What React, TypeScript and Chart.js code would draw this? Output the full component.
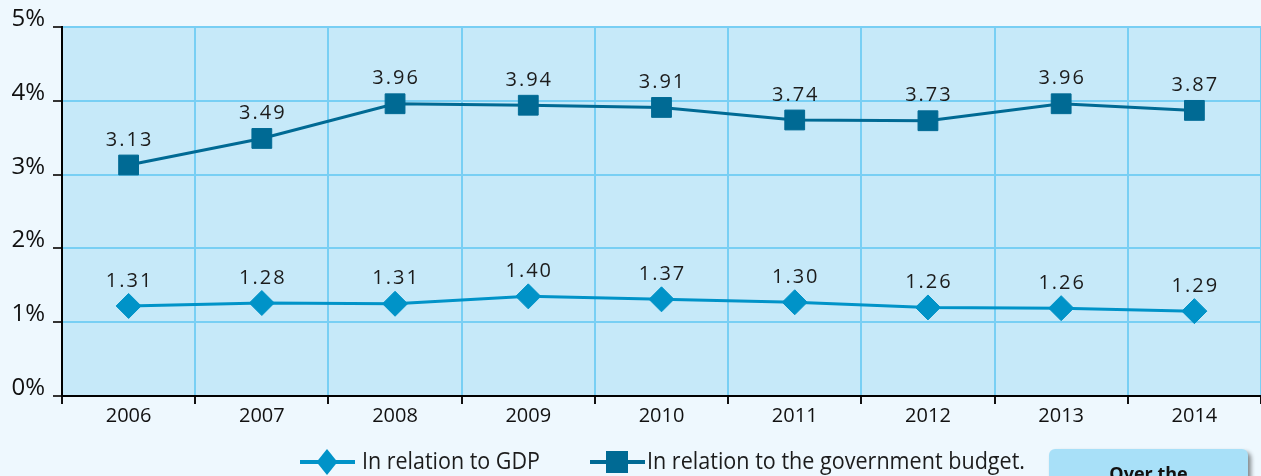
import React, { useEffect, useRef } from "react";
import { Chart, registerables } from "chart.js";

Chart.register(...registerables);

const years = ["2006", "2007", "2008", "2009", "2010", "2011", "2012", "2013", "2014"];
const gdpValues = [1.22, 1.26, 1.25, 1.35, 1.31, 1.27, 1.2, 1.19, 1.15];
const gdpLabels = ["1.31", "1.28", "1.31", "1.40", "1.37", "1.30", "1.26", "1.26", "1.29"];
const budgetValues = [3.13, 3.49, 3.96, 3.94, 3.91, 3.74, 3.73, 3.96, 3.87];
const budgetLabels = ["3.13", "3.49", "3.96", "3.94", "3.91", "3.74", "3.73", "3.96", "3.87"];
const yTicks = [0, 1, 2, 3, 4, 5];

const GDP_COLOR = "#0093c8";
const BUDGET_COLOR = "#006a94";
const GRID_COLOR = "#78cff4";
const PLOT_BG = "#c6e9f9";
const PAGE_BG = "#eef8fe";
const FONT = "'Open Sans', 'Noto Sans', sans-serif";

const allLabels = [gdpLabels, budgetLabels];

const plotBgPlugin = {
  id: "plotBg",
  beforeDraw(chart: any) {
    const { ctx, chartArea } = chart;
    ctx.save();
    ctx.fillStyle = PLOT_BG;
    ctx.fillRect(chartArea.left, chartArea.top, chartArea.right - chartArea.left + 2, chartArea.bottom - chartArea.top);
    ctx.restore();
  },
};

const valueLabelPlugin = {
  id: "valueLabels",
  afterDatasetsDraw(chart: any) {
    const { ctx } = chart;
    ctx.save();
    ctx.font = `20px ${FONT}`;
    (ctx as any).letterSpacing = "2px";
    ctx.fillStyle = "#1c1c1c";
    ctx.textAlign = "center";
    ctx.textBaseline = "middle";
    chart.data.datasets.forEach((ds: any, di: number) => {
      const meta = chart.getDatasetMeta(di);
      meta.data.forEach((pt: any, i: number) => {
        ctx.fillText(allLabels[di][i], pt.x + 1, pt.y - 25);
      });
    });
    ctx.restore();
  },
};

const legendPlugin = {
  id: "customLegend",
  afterDraw(chart: any) {
    const { ctx } = chart;
    const items = [
      { lineFrom: 300, lineTo: 355, mx: 327, textX: 362, textW: 178, shape: "diamond" },
      { lineFrom: 590, lineTo: 645, mx: 617, textX: 647, textW: 378, shape: "square" },
    ];
    const y = 462;
    items.forEach((it, i) => {
      const ds = chart.data.datasets[i];
      ctx.save();
      ctx.strokeStyle = ds.borderColor;
      ctx.lineWidth = 4;
      ctx.beginPath();
      ctx.moveTo(it.lineFrom, y);
      ctx.lineTo(it.lineTo, y);
      ctx.stroke();
      ctx.fillStyle = ds.borderColor;
      ctx.beginPath();
      if (it.shape === "diamond") {
        ctx.moveTo(it.mx, y - 13);
        ctx.lineTo(it.mx + 10.5, y);
        ctx.lineTo(it.mx, y + 13);
        ctx.lineTo(it.mx - 10.5, y);
        ctx.closePath();
      } else {
        ctx.rect(it.mx - 11, y - 11, 22, 22);
      }
      ctx.fill();
      ctx.font = `23px ${FONT}`;
      ctx.fillStyle = "#1c1c1c";
      ctx.textBaseline = "alphabetic";
      ctx.textAlign = "left";
      const w = ctx.measureText(ds.label).width;
      ctx.translate(it.textX, 469);
      ctx.scale(it.textW / w, 1);
      ctx.fillText(ds.label, 0, 0);
      ctx.restore();
    });
  },
};

export default function App() {
  const ref = useRef<HTMLCanvasElement | null>(null);

  useEffect(() => {
    if (!ref.current) return;
    const chart = new Chart(ref.current, {
      type: "line",
      data: {
        labels: years,
        datasets: [
          {
            label: "In relation to GDP",
            data: gdpValues,
            borderColor: GDP_COLOR,
            backgroundColor: GDP_COLOR,
            borderWidth: 3,
            pointStyle: "rectRot",
            pointRadius: 12.5,
            pointBorderWidth: 1,
            pointBackgroundColor: GDP_COLOR,
            pointBorderColor: GDP_COLOR,
            tension: 0,
          },
          {
            label: "In relation to the government budget.",
            data: budgetValues,
            borderColor: BUDGET_COLOR,
            backgroundColor: BUDGET_COLOR,
            borderWidth: 3,
            pointStyle: "rect",
            pointRadius: 14,
            pointBorderWidth: 1,
            pointBackgroundColor: BUDGET_COLOR,
            pointBorderColor: BUDGET_COLOR,
            tension: 0,
          },
        ],
      },
      options: {
        animation: false,
        responsive: false,
        devicePixelRatio: 1,
        layout: { autoPadding: false, padding: { top: 27, right: 0, left: 0, bottom: 50 } },
        plugins: {
          legend: { display: false },
          tooltip: { enabled: false },
        },
        scales: {
          x: {
            type: "category",
            offset: true,
            grid: {
              offset: true,
              color: GRID_COLOR,
              lineWidth: 2,
              tickColor: "#111",
              tickLength: 8,
            },
            border: { color: "#000", width: 2 },
            ticks: {
              color: "#111",
              font: { family: FONT, size: 20, weight: 500 },
              padding: 0,
            },
            afterFit(scale: any) {
              scale.height = 30;
            },
          },
          y: {
            type: "linear",
            min: yTicks[0],
            max: yTicks[yTicks.length - 1],
            afterBuildTicks(scale: any) {
              scale.ticks = yTicks.map((v) => ({ value: v }));
            },
            grid: {
              color: GRID_COLOR,
              lineWidth: 2,
              tickColor: "#333",
              tickLength: 9,
            },
            border: { color: "#000", width: 2 },
            ticks: {
              color: "#111",
              font: { family: FONT, size: 24, lineHeight: 0.66 },
              padding: 8,
              callback: (v: any) => [`${v}%`, ""],
            },
            afterFit(scale: any) {
              scale.width = 62;
            },
          },
        },
      },
      plugins: [plotBgPlugin, valueLabelPlugin, legendPlugin],
    });
    return () => chart.destroy();
  }, []);

  return (
    <div
      style={{
        position: "fixed",
        left: 0,
        top: 0,
        width: 1261,
        height: 476,
        background: PAGE_BG,
        overflow: "hidden",
        fontFamily: FONT,
      }}
    >
      <canvas ref={ref} width={1261} height={476} style={{ position: "absolute", left: 0, top: 0, width: 1261, height: 476 }} />
      <div
        style={{
          position: "absolute",
          left: 1049,
          top: 449,
          width: 199,
          height: 44,
          background: "#a8e0f8",
          borderRadius: 6,
          boxShadow: "3px 3px 4px rgba(0,0,0,0.45)",
          textAlign: "center",
          fontWeight: 700,
          fontSize: 18,
          color: "#111",
          paddingTop: 12,
          boxSizing: "border-box",
        }}
      >
        Over the
      </div>
    </div>
  );
}
